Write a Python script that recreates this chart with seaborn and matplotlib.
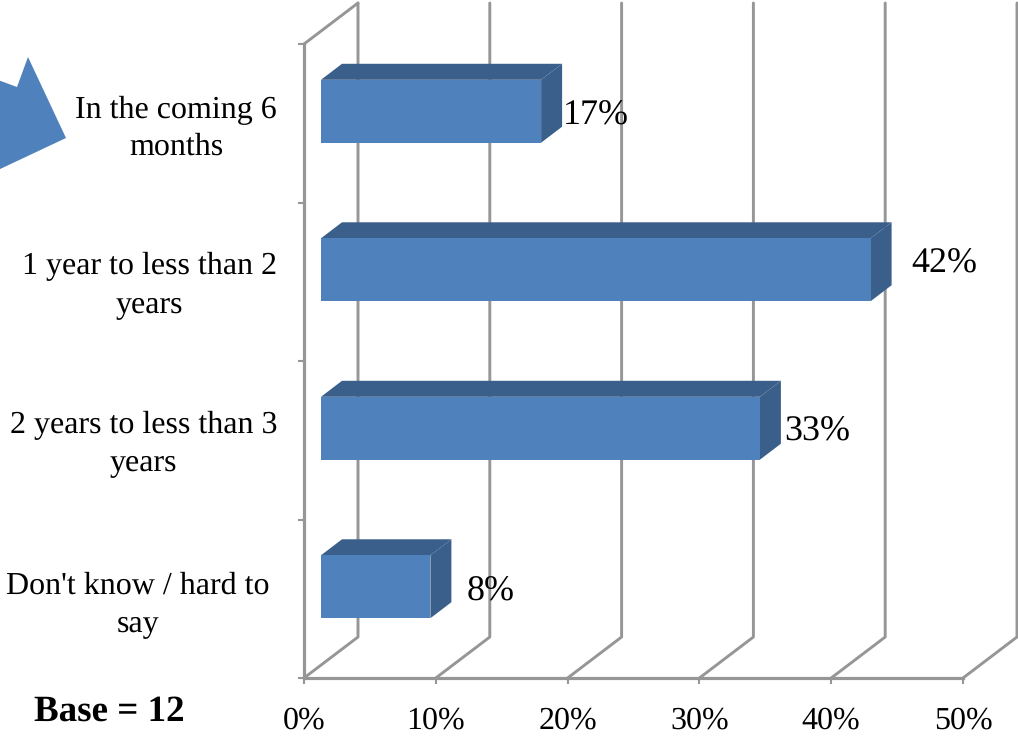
import numpy as np
import pandas as pd
import matplotlib
matplotlib.use("Agg")
import matplotlib.pyplot as plt
from matplotlib.patches import Polygon
from matplotlib.transforms import Affine2D
import seaborn as sns

categories = ["In the coming 6\nmonths", "1 year to less than 2\nyears",
              "2 years to less than 3\nyears", "Don't know / hard to\nsay"]
shares = [16.7, 41.7, 33.3, 8.3]
value_labels = ["17%", "42%", "33%", "8%"]
x_ticks = [0, 10, 20, 30, 40, 50]
x_tick_labels = ["0%", "10%", "20%", "30%", "40%", "50%"]

W, H = 1018, 736
FRONT = "#4F81BD"
DARK = "#3A5F8B"
GREY = "#969696"
SERIF = "Liberation Serif"

sns.set_theme(style="white")
plt.rcParams["font.family"] = [SERIF, "DejaVu Sans"]
plt.rcParams["text.hinting"] = "no_hinting"
plt.rcParams["text.hinting_factor"] = 1

fig = plt.figure(figsize=(W / 100, H / 100), dpi=100, facecolor="white")
# axes rectangle: 0% at x=304, 50% at x=963, floor at y=678, left wall top at y=44
ax = fig.add_axes([304 / W, 1 - 678 / H, (963 - 304) / W, (678 - 44) / H])

df = pd.DataFrame({"timing": categories, "share": shares})
sns.barplot(data=df, x="share", y="timing", orient="h", color=FRONT, saturation=1,
            width=0.397, ax=ax, zorder=4, linewidth=0)
ax.set_xlim(0, 50)
ax.set_ylim(3.5, -0.5)
ax.set_xlabel("")
ax.set_ylabel("")

px_x = 50 / (963 - 304)          # data units per pixel, x
px_y = 4 / (678 - 44)            # data units per pixel, y
wall_dx, wall_dy = 54 * px_x, 41 * px_y
bar_dx, bar_dy = 17 * px_x, 12 * px_y
deep_dx, deep_dy = 21 * px_x, 16 * px_y

# walls and floor lines
line_kw = dict(color=GREY, lw=2.1, clip_on=False, zorder=1, solid_capstyle="round")
y0, y1 = ax.get_ylim()
for x in x_ticks:
    ax.plot([x, x + wall_dx, x + wall_dx], [y0, y0 - wall_dy, y1 - wall_dy], **line_kw)
ax.plot([0, wall_dx], [y1, y1 - wall_dy], **line_kw)

# 3-D bars built from the seaborn rectangles
for patch, lab, off_x, off_y in zip(ax.patches, value_labels, [22, 41, 24, 36], [5, -6, 4, 5]):
    patch.set_x(patch.get_x() + bar_dx)
    patch.set_y(patch.get_y() - bar_dy)
    xl, xr = patch.get_x(), patch.get_x() + patch.get_width()
    yt, yb = patch.get_y(), patch.get_y() + patch.get_height()
    ax.add_patch(Polygon([(xl, yt), (xl + deep_dx, yt - deep_dy), (xr + deep_dx, yt - deep_dy), (xr, yt)],
                         closed=True, fc=DARK, ec="none", zorder=3, clip_on=False))
    ax.add_patch(Polygon([(xr, yt), (xr + deep_dx, yt - deep_dy), (xr + deep_dx, yb - deep_dy), (xr, yb)],
                         closed=True, fc=DARK, ec="none", zorder=3, clip_on=False))
    ax.annotate(lab, xy=(xr, (yt + yb) / 2), xytext=(off_x * 0.72, -off_y * 0.72),
                textcoords="offset points", ha="left", va="center",
                fontsize=25.8, color="black", zorder=6, annotation_clip=False)

# axes styling
for side in ["top", "right"]:
    ax.spines[side].set_visible(False)
for side in ["left", "bottom"]:
    ax.spines[side].set_color(GREY)
    ax.spines[side].set_linewidth(2.3)
ax.set_xticks(x_ticks)
ax.set_xticklabels(x_tick_labels, fontsize=23, color="black")
ax.tick_params(axis="x", bottom=True, length=4.3, width=1.5, color=GREY, pad=16)
ax.set_yticks(range(len(categories)))
ax.set_yticklabels(categories, fontsize=23, color="black", ha="right", multialignment="center", linespacing=1.37)
ax.tick_params(axis="y", which="major", left=False, length=0, pad=19.4)
ax.set_yticks([-0.5, 0.5, 1.5, 2.5, 3.5], minor=True)
ax.tick_params(axis="y", which="minor", left=True, length=4.3, width=1.5, color=GREY)
ax.yaxis.get_major_ticks()[3].set_pad(24.8)
for label, dy in zip(ax.get_yticklabels(), [2, 4, 4, 2]):
    label.set_transform(label.get_transform() + Affine2D().translate(0, dy))

fig.text(109 / W, 1 - 712 / H, "Base = 12", fontsize=26.5, fontweight="bold",
         ha="center", va="center", color="black")

# block arrow running off the left edge (annotation shape)
arrow_px = np.array([(28, 57), (66, 138), (-2, 170), (-2, 80), (17, 87)], dtype=float)
arrow_fig = np.column_stack([arrow_px[:, 0] / W, 1 - arrow_px[:, 1] / H])
fig.add_artist(Polygon(arrow_fig, closed=True, transform=fig.transFigure, fc=FRONT, ec="none"))

fig.savefig("out.png", dpi=100, facecolor="white")
